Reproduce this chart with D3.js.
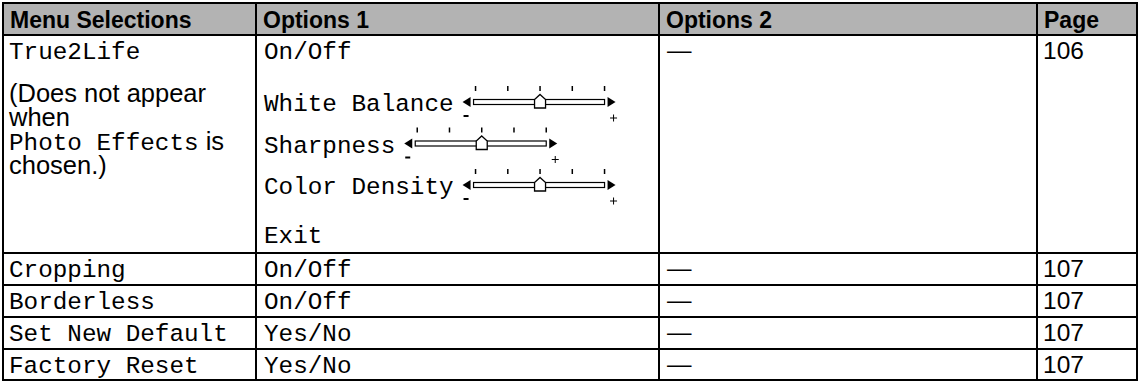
<!DOCTYPE html>
<html><head><meta charset="utf-8">
<script src="https://cdn.jsdelivr.net/npm/d3@7/dist/d3.min.js"></script>
<style>html,body{margin:0;padding:0;background:#fff;}svg{display:block;}</style>
</head><body>
<script>
// ---- data ----
const headers = ["Menu Selections", "Options 1", "Options 2", "Page"];
const menuSelections = ["True2Life", "Cropping", "Borderless", "Set New Default", "Factory Reset"];
const options1 = ["On/Off", "On/Off", "On/Off", "Yes/No", "Yes/No"];
const options2 = ["\u2014", "\u2014", "\u2014", "\u2014", "\u2014"];
const pages = ["106", "107", "107", "107", "107"];
const noteLines = [
  [{t: "(Does not appear", mono: false}],
  [{t: "when", mono: false}],
  [{t: "Photo Effects", mono: true}, {t: " is", mono: false}],
  [{t: "chosen.)", mono: false}]
];
const sliderLabels = ["White Balance", "Sharpness", "Color Density"];
const sliderSteps = [0, 1, 2, 3, 4];
const sliderValues = [2, 2, 2];
const extraOption = "Exit";

// ---- layout ----
const W = 1140, H = 382;
const colEdges = [3, 256, 659, 1037, 1137];
const rowEdges = [3, 35, 253, 285, 317, 349, 380];
const padX = 7;
const SANS = "'Liberation Sans', Arial, sans-serif";
const MONO = "'Liberation Mono', 'Courier New', monospace";
const HFS = 23, FS = 24.5, NFS = 25.5, MFS = 24.3;

const svg = d3.select("body").append("svg").attr("width", W).attr("height", H);

// header background
svg.append("rect").attr("x", colEdges[0]).attr("y", rowEdges[0])
  .attr("width", colEdges[4] - colEdges[0]).attr("height", rowEdges[1] - rowEdges[0])
  .attr("fill", "#b3b3b3");

// header text
svg.selectAll("text.hdr").data(headers).join("text").attr("class", "hdr")
  .attr("x", (d, i) => colEdges[i] + padX).attr("y", rowEdges[0] + 24.5)
  .attr("font-family", SANS).attr("font-weight", "bold").attr("font-size", HFS)
  .attr("fill", "#000").text(d => d);

const rowBase = i => rowEdges[i + 1] + 23.5;

svg.selectAll("text.menu").data(menuSelections).join("text").attr("class", "menu")
  .attr("x", colEdges[0] + padX - 1).attr("y", (d, i) => rowBase(i))
  .attr("font-family", MONO).attr("font-size", MFS).text(d => d);

svg.selectAll("text.opt1").data(options1).join("text").attr("class", "opt1")
  .attr("x", colEdges[1] + padX + 1).attr("y", (d, i) => rowBase(i))
  .attr("font-family", MONO).attr("font-size", MFS).text(d => d);

svg.selectAll("text.opt2").data(options2).join("text").attr("class", "opt2")
  .attr("x", colEdges[2] + padX + 1).attr("y", (d, i) => rowBase(i) - 1)
  .attr("font-family", SANS).attr("font-size", FS).text(d => d);

svg.selectAll("text.page").data(pages).join("text").attr("class", "page")
  .attr("x", colEdges[3] + padX - 1).attr("y", (d, i) => rowBase(i))
  .attr("font-family", SANS).attr("font-size", FS).text(d => d);

// note lines in first big row
const noteY = d3.scaleLinear().domain([0, 1]).range([101.5, 125.5]);
noteLines.forEach((segs, li) => {
  const t = svg.append("text").attr("x", colEdges[0] + padX - 1).attr("y", noteY(li))
    .attr("font-size", NFS);
  segs.forEach(s => {
    t.append("tspan").attr("font-family", s.mono ? MONO : SANS)
      .attr("font-size", s.mono ? MFS : NFS).text(s.t);
  });
});

// sliders
const sliderY = d3.scaleLinear().domain([0, 1]).range([111, 152.5]);
const span = 129;
sliderLabels.forEach((lab, k) => {
  const by = sliderY(k);
  const tx = svg.append("text").attr("x", colEdges[1] + padX + 1).attr("y", by)
    .attr("font-family", MONO).attr("font-size", MFS).text(lab);
  const tw = tx.node().getComputedTextLength();
  const x0 = colEdges[1] + padX + 1 + tw + 22;
  const sx = d3.scaleLinear().domain([sliderSteps[0], sliderSteps[sliderSteps.length - 1]]).range([x0, x0 + span]);
  const cy = by - 9;
  const g = svg.append("g");
  // ticks
  g.selectAll("line.tk").data(sliderSteps).join("line")
    .attr("x1", d => sx(d)).attr("x2", d => sx(d))
    .attr("y1", cy - 16).attr("y2", cy - 11)
    .attr("stroke", "#000").attr("stroke-width", 1.5);
  // track
  g.append("rect").attr("x", x0 - 2).attr("y", cy - 2.5).attr("width", span + 2).attr("height", 5)
    .attr("fill", "#fff").attr("stroke", "#000").attr("stroke-width", 1.2);
  // arrows
  g.append("path").attr("d", `M${x0 - 13},${cy} L${x0 - 5},${cy - 5} L${x0 - 5},${cy + 5} Z`).attr("fill", "#000");
  g.append("path").attr("d", `M${x0 + span + 11},${cy} L${x0 + span + 3},${cy - 5} L${x0 + span + 3},${cy + 5} Z`).attr("fill", "#000");
  // thumb
  const v = sx(sliderValues[k]);
  g.append("path")
    .attr("d", `M${v},${cy - 7.5} L${v + 5.5},${cy - 2.5} L${v + 5.5},${cy + 6} L${v - 5.5},${cy + 6} L${v - 5.5},${cy - 2.5} Z`)
    .attr("fill", "#fff").attr("stroke", "#000").attr("stroke-width", 1.3);
  // minus / plus
  g.append("rect").attr("x", x0 - 12).attr("y", cy + 13).attr("width", 5).attr("height", 2).attr("fill", "#000");
  const px = x0 + span + 9, py = cy + 16;
  g.append("path").attr("d", `M${px - 3.5},${py} H${px + 3.5} M${px},${py - 3.5} V${py + 3.5}`)
    .attr("stroke", "#000").attr("stroke-width", 1).attr("fill", "none");
});

svg.append("text").attr("x", colEdges[1] + padX + 1).attr("y", 243)
  .attr("font-family", MONO).attr("font-size", MFS).text(extraOption);

// grid lines
const gl = svg.append("g").attr("stroke", "#000").attr("stroke-width", 2).attr("fill", "none");
gl.selectAll("line.h").data(rowEdges).join("line")
  .attr("x1", colEdges[0] - 1).attr("x2", colEdges[4] + 1).attr("y1", d => d).attr("y2", d => d);
gl.selectAll("line.v").data(colEdges).join("line")
  .attr("x1", d => d).attr("x2", d => d).attr("y1", rowEdges[0]).attr("y2", rowEdges[rowEdges.length - 1]);
</script>
</body></html>
